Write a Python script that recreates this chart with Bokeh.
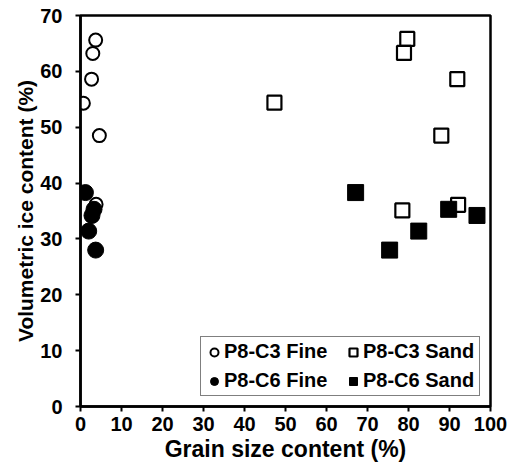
from bokeh.plotting import figure
from bokeh.models import FixedTicker, Range1d, Legend, LegendItem
from bokeh.embed import file_html
from bokeh.resources import INLINE

# Data
c3_fine_x = [3.7, 3.0, 2.7, 0.7, 4.6, 3.8]
c3_fine_y = [65.6, 63.2, 58.6, 54.3, 48.5, 36.2]
c3_sand_x = [47.3, 79.7, 78.9, 91.9, 88.0, 78.5, 92.1]
c3_sand_y = [54.4, 65.8, 63.3, 58.6, 48.5, 35.1, 36.1]
c6_fine_x = [1.2, 3.3, 2.8, 2.0, 3.7]
c6_fine_y = [38.3, 35.3, 34.2, 31.4, 28.0]
c6_sand_x = [67.1, 89.8, 96.7, 82.5, 75.4]
c6_sand_y = [38.3, 35.3, 34.2, 31.4, 28.0]
x_ticks = [0, 10, 20, 30, 40, 50, 60, 70, 80, 90, 100]
y_ticks = [0, 10, 20, 30, 40, 50, 60, 70]
labels = ["P8-C3 Fine", "P8-C3 Sand", "P8-C6 Fine", "P8-C6 Sand"]

FONT = "Liberation Sans"

p = figure(width=509, height=467, output_backend="svg", toolbar_location=None,
           x_range=Range1d(0, 100), y_range=Range1d(0, 70),
           min_border_left=80, min_border_right=19, min_border_top=15, min_border_bottom=61)

p.xgrid.visible = False
p.ygrid.visible = False
p.outline_line_color = "black"
p.outline_line_width = 2.5
p.background_fill_color = "white"
p.border_fill_color = "white"

r1 = p.scatter(c3_fine_x, c3_fine_y, marker="circle", size=13, fill_color="white",
               line_color="black", line_width=2)
r2 = p.scatter(c3_sand_x, c3_sand_y, marker="square", size=14, fill_color="white",
               line_color="black", line_width=2.2)
r3 = p.scatter(c6_fine_x, c6_fine_y, marker="circle", size=16, fill_color="black",
               line_color="black", line_width=1)
r4 = p.scatter(c6_sand_x, c6_sand_y, marker="square", size=16, fill_color="black",
               line_color="black", line_width=1)

for ax, ticks in ((p.xaxis[0], x_ticks), (p.yaxis[0], y_ticks)):
    ax.ticker = FixedTicker(ticks=ticks)
    ax.minor_tick_line_color = None
    ax.major_tick_in = 0
    ax.major_tick_out = 5
    ax.major_tick_line_width = 2
    ax.major_tick_line_color = "black"
    ax.axis_line_width = 2.5
    ax.axis_line_color = "black"
    ax.major_label_text_font = FONT
    ax.major_label_text_font_style = "bold"
    ax.major_label_text_font_size = "20px"
    ax.major_label_text_color = "black"
    ax.axis_label_text_font = FONT
    ax.axis_label_text_font_style = "bold"
    ax.axis_label_text_color = "black"

p.xaxis.axis_label = "Grain size content (%)"
p.yaxis.axis_label = "Volumetric ice content (%)"
p.xaxis.axis_label_text_font_size = "23px"
p.yaxis.axis_label_text_font_size = "21px"
p.xaxis.major_label_standoff = 5
p.xaxis.axis_label_standoff = 2
p.yaxis.major_label_standoff = 13
p.yaxis.axis_label_standoff = 0

legend = Legend(items=[LegendItem(label=labels[0], renderers=[r1]),
                       LegendItem(label=labels[2], renderers=[r3]),
                       LegendItem(label=labels[1], renderers=[r2]),
                       LegendItem(label=labels[3], renderers=[r4])],
                location="bottom_right", ncols=2,
                glyph_width=20, glyph_height=20, label_standoff=-6,
                label_text_font=FONT, label_text_font_style="bold",
                label_text_font_size="20px", label_text_color="black",
                border_line_color="black", border_line_width=1,
                background_fill_color="white", background_fill_alpha=1,
                padding=3, spacing=6, margin=10, label_height=20, label_width=113)
p.add_layout(legend)

open("out.html", "w").write(file_html(p, INLINE))
